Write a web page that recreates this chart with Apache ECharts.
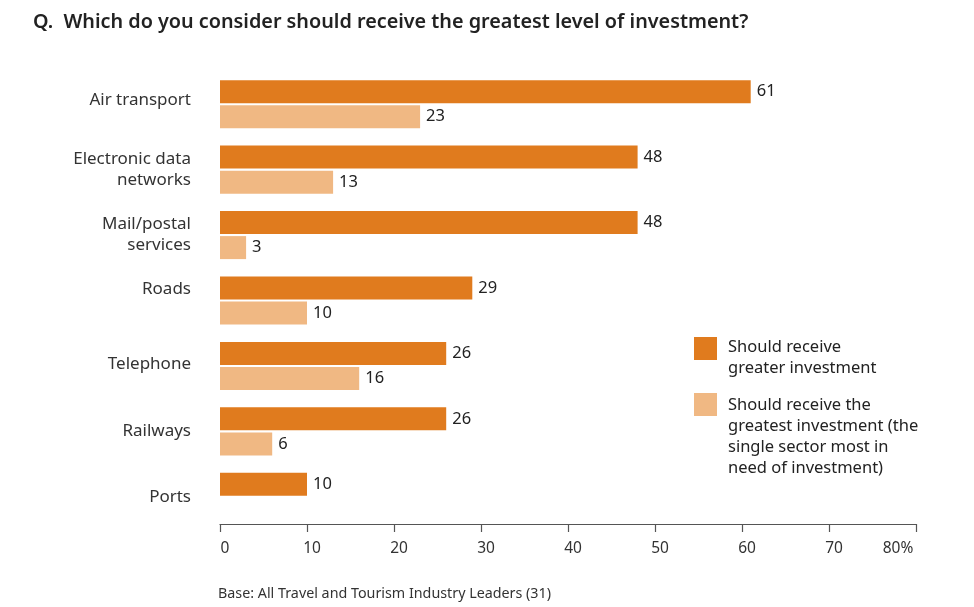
<!DOCTYPE html>
<html>
<head>
<meta charset="utf-8">
<script src="https://cdn.jsdelivr.net/npm/echarts@6/dist/echarts.min.js"></script>
<style>
  html, body { margin: 0; padding: 0; background: #fff; }
  #chart { width: 974px; height: 607px; }
</style>
</head>
<body>
<div id="chart"></div>
<script>
// Sectors, listed top to bottom
const categories = ['Air transport', 'Electronic data\nnetworks', 'Mail/postal\nservices', 'Roads', 'Telephone', 'Railways', 'Ports'];
// Share of leaders (%) saying the sector should receive greater investment
const greaterInvestment = [61, 48, 48, 29, 26, 26, 10];
// Share of leaders (%) naming the sector as the single one most in need
const greatestInvestment = [23, 13, 3, 10, 16, 6, null];
const xTicks = [0, 10, 20, 30, 40, 50, 60, 70, 80];
const seriesNames = ['Should receive\ngreater investment', 'Should receive the\ngreatest investment (the\nsingle sector most in\nneed of investment)'];

const DARK = '#E07B1E';
const LIGHT = '#F0B883';
const FONT = '"Noto Sans", sans-serif';

// Some sector names sit a little above the middle of their pair of bars
const liftStyle = { 'Air transport': 'a', 'Roads': 'r', 'Telephone': 't' };
const catText = { fontSize: 17, color: '#333', fontFamily: FONT };

const chart = echarts.init(document.getElementById('chart'), null, { renderer: 'canvas' });

const valueLabel = {
  show: true,
  position: 'right',
  distance: 6,
  color: '#222',
  fontSize: 16.5,
  fontFamily: FONT,
  formatter: p => (p.value == null ? '' : p.value)
};

chart.setOption({
  animation: false,
  textStyle: { fontFamily: FONT },
  title: {
    text: 'Q.  Which do you consider should receive the greatest level of investment?',
    left: 28,
    top: 7,
    textStyle: { fontSize: 19.8, fontWeight: 600, color: '#222', fontFamily: FONT }
  },
  grid: { left: 220, right: 58, top: 71.5, bottom: 77.5, containLabel: false },
  xAxis: {
    type: 'value',
    min: 0,
    max: 80,
    interval: 10,
    offset: -5.5,
    axisLine: { show: true, lineStyle: { color: '#555', width: 1.2 } },
    axisTick: { show: true, inside: false, length: 8, lineStyle: { color: '#555', width: 1.2 } },
    splitLine: { show: false },
    axisLabel: {
      color: '#333',
      fontSize: 15.5,
      margin: 17,
      fontFamily: FONT,
      formatter: v => {
        if (xTicks.indexOf(v) === -1) return '';
        return v === 80 ? '{last|' + v + '%}' : '{n|' + v + '}';
      },
      rich: {
        n: { fontSize: 15.5, color: '#333', fontFamily: FONT, padding: [0, 0, 0, 10] },
        last: { fontSize: 15.5, color: '#333', fontFamily: FONT, padding: [0, 36, 0, 0] }
      }
    }
  },
  yAxis: {
    type: 'category',
    inverse: true,
    data: categories,
    axisLine: { show: false },
    axisTick: { show: false },
    axisLabel: {
      color: '#333', fontSize: 17, lineHeight: 21, margin: 29, fontFamily: FONT, align: 'right',
      formatter: c => (liftStyle[c] ? '{' + liftStyle[c] + '|' + c + '}' : c),
      rich: {
        a: Object.assign({ padding: [0, 0, 8, 0] }, catText),
        r: Object.assign({ padding: [0, 0, 22, 0] }, catText),
        t: Object.assign({ padding: [0, 0, 4, 0] }, catText)
      }
    }
  },
  series: [
    {
      name: seriesNames[0],
      type: 'bar',
      data: greaterInvestment,
      barWidth: 23,
      barGap: '9%',
      itemStyle: { color: DARK },
      label: valueLabel
    },
    {
      name: seriesNames[1],
      type: 'bar',
      data: greatestInvestment,
      barWidth: 23,
      barGap: '9%',
      itemStyle: { color: LIGHT },
      label: valueLabel
    }
  ],
  graphic: [
    { type: 'rect', left: 694, top: 337, shape: { width: 23, height: 23 }, style: { fill: DARK } },
    { type: 'text', left: 728, top: 337, style: { text: seriesNames[0], fill: '#222', font: '16.5px ' + FONT, lineHeight: 21 } },
    { type: 'rect', left: 694, top: 393, shape: { width: 23, height: 23 }, style: { fill: LIGHT } },
    { type: 'text', left: 728, top: 395, style: { text: seriesNames[1], fill: '#222', font: '16.5px ' + FONT, lineHeight: 21 } },
    { type: 'text', left: 218, top: 587, style: { text: 'Base: All Travel and Tourism Industry Leaders (31)', fill: '#333', font: '14.3px ' + FONT } }
  ]
});
</script>
</body>
</html>
